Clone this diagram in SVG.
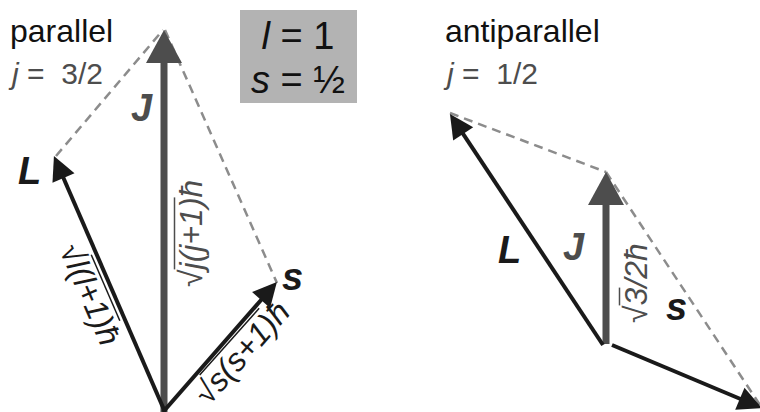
<svg xmlns="http://www.w3.org/2000/svg" width="760" height="412" viewBox="0 0 760 412">
<style>
text{font-family:'Liberation Sans',Arial,sans-serif}
.head{font-size:32px;fill:#111}
.jval{font-size:30px;fill:#4d4d4d}
.box{font-size:38px;fill:#111}
.vec{font-size:38px;font-weight:bold;font-style:italic}
.blk{fill:#1a1a1a}
.gry{fill:#4d4d4d}
.mag{font-size:32px;font-style:italic}
.ov{stroke-width:1.5}
.dash{stroke:#8c8c8c;stroke-width:2.5;stroke-dasharray:9 6;fill:none}
.av{stroke:#1a1a1a;stroke-width:4;fill:none;marker-end:url(#hb)}
.jv{stroke:#4d4d4d;stroke-width:7;fill:none;marker-end:url(#hg)}
</style>
<defs>
<marker id="hb" markerUnits="userSpaceOnUse" refX="2" refY="0" markerWidth="30" markerHeight="30" orient="auto" overflow="visible"><path d="M0,-12 L24,0 L0,12 z" fill="#1a1a1a"/></marker>
<marker id="hg" markerUnits="userSpaceOnUse" refX="2" refY="0" markerWidth="40" markerHeight="40" orient="auto" overflow="visible"><path d="M0,-18 L33,0 L0,18 z" fill="#4d4d4d"/></marker>
</defs>
<g id="connectors">
<line class="dash" x1="56" y1="156" x2="163" y2="30"/>
<line class="dash" x1="165" y1="30" x2="277" y2="283"/>
<line class="dash" x1="450" y1="113" x2="606" y2="172"/>
<line class="dash" x1="606" y1="172" x2="762" y2="408"/>
<line class="jv" x1="164" y1="414" x2="164" y2="61"/>
<line class="av" x1="165" y1="412" x2="62.7" y2="176.2"/>
<line class="av" x1="163" y1="412" x2="262.4" y2="298.5"/>
<line class="jv" x1="606" y1="344" x2="606" y2="203"/>
<line class="av" x1="603" y1="345" x2="462.1" y2="132.3"/>
<line class="av" x1="612" y1="345" x2="741.7" y2="399.5"/>
</g>
<g id="title-parallel"><text class="head" x="10" y="42">parallel</text>
<text class="jval" x="12" y="84"><tspan font-style="italic">j</tspan> =&#160; 3/2</text></g>
<g id="values-box"><rect x="240" y="10" width="117" height="93" fill="#b3b3b3"/>
<text class="box" x="298" y="49" text-anchor="middle"><tspan font-style="italic">l</tspan> = 1</text>
<text class="box" x="298" y="93" text-anchor="middle"><tspan font-style="italic">s</tspan> = ½</text></g>
<g id="title-antiparallel"><text class="head" x="445" y="42">antiparallel</text>
<text class="jval" x="447" y="84"><tspan font-style="italic">j</tspan> =&#160; 1/2</text></g>
<g id="L-parallel"><text class="vec blk" x="18" y="184">L</text>
<g transform="translate(59,249.5) rotate(66.6)"><text class="mag blk" x="0" y="0">√l(l+1)ħ</text><line class="ov" stroke="#1a1a1a" x1="17.6" y1="-27.5" x2="89.6" y2="-27.5"/></g></g>
<g id="J-parallel"><text class="vec gry" x="131" y="121">J</text>
<g transform="translate(202,287) rotate(-90)"><text class="mag gry" x="0" y="0">√j(j+1)ħ</text><line class="ov" stroke="#4d4d4d" x1="17.6" y1="-27.5" x2="89.6" y2="-27.5"/></g></g>
<g id="s-parallel"><text class="vec blk" x="282" y="290">s</text>
<g transform="translate(208.5,406.5) rotate(-48.3)"><text class="mag blk" x="0" y="0">√s(s+1)ħ</text><line class="ov" stroke="#1a1a1a" x1="17.6" y1="-27.5" x2="107" y2="-27.5"/></g></g>
<g id="L-anti"><text class="vec blk" x="498" y="263">L</text></g>
<g id="J-anti"><text class="vec gry" x="563" y="260">J</text>
<g transform="translate(647,323) rotate(-90)"><text class="mag gry" x="0" y="0">√3/2ħ</text><line class="ov" stroke="#4d4d4d" x1="17.6" y1="-27.5" x2="35.4" y2="-27.5"/></g></g>
<g id="s-anti"><text class="vec blk" x="666" y="320">s</text></g>
</svg>
